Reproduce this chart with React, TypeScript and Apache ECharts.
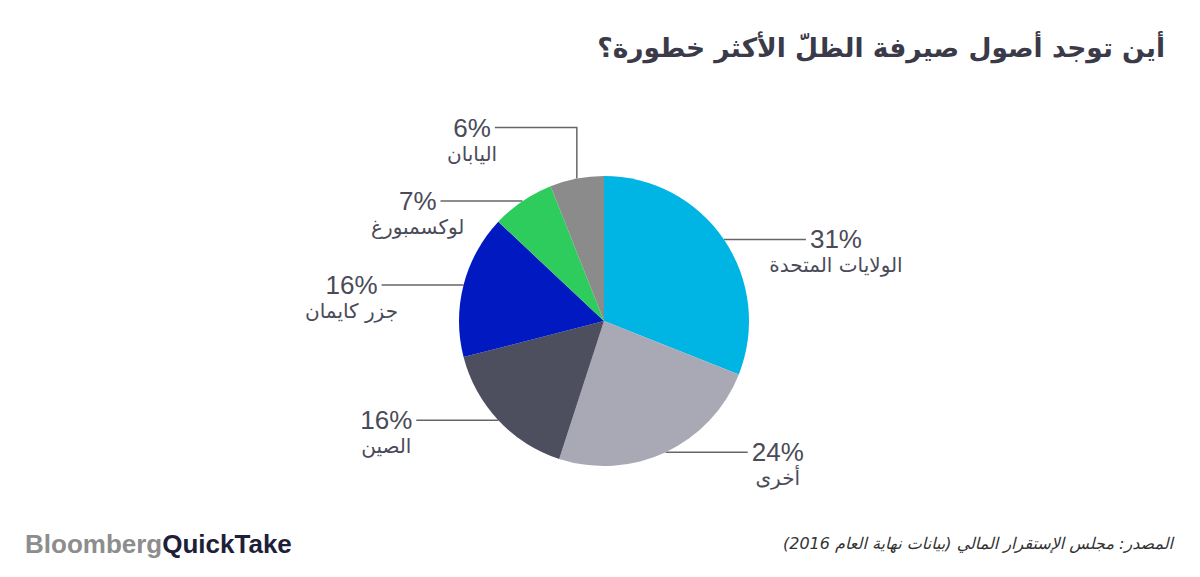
import React, { useEffect, useRef } from "react";
import * as echarts from "echarts";

const TITLE = "أين توجد أصول صيرفة الظلّ الأكثر خطورة؟";
const SOURCE = "المصدر: مجلس الإستقرار المالي (بيانات نهاية العام 2016)";
const names = ["الولايات المتحدة", "أخرى", "الصين", "جزر كايمان", "لوكسمبورغ", "اليابان"];
const values = [31, 24, 16, 16, 7, 6];
const colors = ["#00b4e3", "#a9a9b5", "#4d4e5e", "#0019c0", "#2ecc5c", "#8b8b8b"];
// vertical rise of the label line before its horizontal run (layout only)
const labelRise = [0, 0, 0, 0, 0, 51];

const CX = 604;
const CY = 321;
const R = 145;
const RUN = 82;
const GAP = 4;
const PCT_SIZE = 26;
const PCT_LH = 26;
const PCT_FONT = "Liberation Sans";
const NAME_FONT = "DejaVu Sans";

export default function App() {
  const ref = useRef<HTMLDivElement>(null);
  useEffect(() => {
    document.body.style.margin = "0";
    if (!ref.current) return;
    const chart = echarts.init(ref.current, null, { renderer: "svg" });
    const total = values.reduce((a, b) => a + b, 0);
    const cum: number[] = [];
    let s = 0;
    values.forEach((v) => {
      cum.push(s + v / 2);
      s += v;
    });
    const canvas = document.createElement("canvas");
    const ctx = canvas.getContext("2d")!;
    ctx.font = `${PCT_SIZE}px "${PCT_FONT}"`;
    const pctW = values.map((v) => ctx.measureText(`${v}%`).width);

    chart.setOption({
      animation: false,
      title: [
        {
          text: TITLE,
          right: 30,
          top: 29,
          textStyle: { fontSize: 26.5, fontWeight: "bold", color: "#3a3a48", fontFamily: NAME_FONT },
        },
        {
          text: "\u200F" + SOURCE + "\u200F",
          right: 22,
          top: 530,
          textStyle: { fontSize: 16, fontStyle: "italic", fontWeight: "normal", color: "#333333", fontFamily: NAME_FONT },
        },
        {
          text: "{a|Bloomberg}{b|QuickTake}",
          left: 20,
          top: 526,
          textStyle: {
            rich: {
              a: { fontSize: 26, fontWeight: "bold", color: "#8d8d8d", fontFamily: "Liberation Sans" },
              b: { fontSize: 26, fontWeight: "bold", color: "#1d2039", fontFamily: "Liberation Sans" },
            },
          },
        },
      ],
      series: [
        {
          type: "pie",
          center: [CX, CY],
          radius: R,
          startAngle: 90,
          clockwise: true,
          emphasis: { disabled: true },
          data: values.map((v, i) => ({ value: v, name: names[i], itemStyle: { color: colors[i] } })),
          itemStyle: { borderWidth: 0 },
          label: {
            show: true,
            formatter: (p: any) => `{p|${p.value}%}\n{n|${p.name}}`,
            rich: {
              p: { fontSize: PCT_SIZE, lineHeight: PCT_LH, color: "#4a4b58", fontFamily: PCT_FONT, align: "center" },
              n: { fontSize: 20, lineHeight: 26, color: "#4a4b58", fontFamily: NAME_FONT, align: "center" },
            },
          },
          labelLine: { show: true, smooth: false, lineStyle: { color: "#666666", width: 1.5 } },
          labelLayout: (params: any) => {
            const i = params.dataIndex;
            const a = (cum[i] / total) * Math.PI * 2;
            const px = CX + R * Math.sin(a);
            const py = CY - R * Math.cos(a);
            const side = Math.sin(a) >= 0 ? 1 : -1;
            const rise = labelRise[i];
            const ey = py - rise;
            const ex = px + side * RUN;
            const pts = rise
              ? [[px, py], [px, ey], [ex, ey]]
              : [[px, py], [px + side * RUN / 2, py], [ex, ey]];
            const x = ex + side * (GAP + pctW[i] / 2);
            return {
              x,
              y: ey - PCT_LH / 2,
              align: "center",
              verticalAlign: "top",
              labelLinePoints: pts,
            };
          },
        },
      ],
    });
    return () => chart.dispose();
  }, []);
  return <div ref={ref} style={{ width: 1200, height: 577 }} />;
}
